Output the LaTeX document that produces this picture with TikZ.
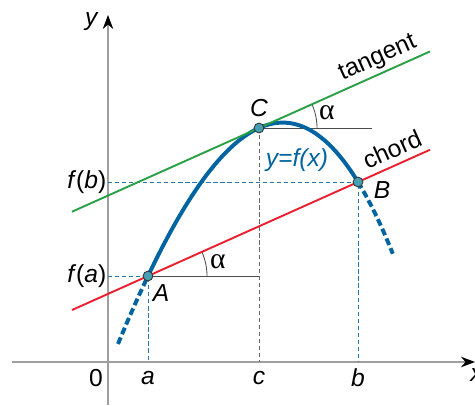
\documentclass[tikz,border=0pt]{standalone}
\usepackage{fontspec}
\setmainfont{Liberation Sans}
\newfontfamily\grkfont{Liberation Serif}
\usetikzlibrary{arrows.meta,calc}
\definecolor{curveblue}{RGB}{0,100,160}
\definecolor{tangreen}{RGB}{40,160,70}
\definecolor{chordred}{RGB}{235,30,45}
\definecolor{ptfill}{RGB}{70,160,180}
\definecolor{helpblue}{RGB}{40,120,175}

\begin{document}
\begin{tikzpicture}[font=\fontsize{17.5}{20}\selectfont,
  axis/.style={gray!75,line width=0.9pt,-{Stealth[black,length=10pt,width=7.5pt]}},
  pt/.style={circle,draw=black!80,fill=ptfill,line width=0.6pt,inner sep=0pt,minimum size=7pt},
  helper/.style={helpblue,line width=0.6pt,dash pattern=on 3pt off 2pt},
  crv/.style={curveblue,line width=2.8pt},
  angl/.style={black!70,line width=0.6pt},
  alpha/.style={font=\grkfont\fontsize{21}{22}\selectfont},
  declare function={f(\x)=5.85+0.4476*(\x-3.775)-0.36256*(\x-3.775)^2-0.015632*(\x-3.775)^3;}]
\useasboundingbox (-2.7,-1.075) rectangle (9.175,9.05);
% axes
\draw[axis] (-2.4,0) -- (9.175,0);
\draw[axis] (0,-1.075) -- (0,8.675);
\node (ly) at (-0.4,8.5) {\textit{y}};
\node (lx) at (9.22,-0.33) {\textit{x}};
\node (l0) at (-0.3,-0.4) {0};
% points on the curve
\coordinate (fa) at (0,2.15);
\coordinate (fb) at (0,4.5);
\coordinate (xa) at (1,0);
\coordinate (xc) at (3.775,0);
\coordinate (xb) at (6.25,0);
\coordinate (pa) at (1,2.15);
\coordinate (pc) at (3.775,5.85);
\coordinate (pb) at (6.25,4.5);
% helper lines
\draw[helper] (fa) -- (pa) -- (xa);
\draw[helper] (fb) -- (pb) -- (xb);
\draw[black!60,line width=0.7pt,dash pattern=on 3pt off 2pt] (pc) -- (xc);
\draw[angl] (pa) -- (pa -| xc);
\draw[angl] (pc) -- ++(2.825,0);
\draw[angl] ($(pa)+(1.475,0)$) arc[start angle=0,end angle=24.1,radius=1.475];
\draw[angl] ($(pc)+(1.45,0)$) arc[start angle=0,end angle=24.1,radius=1.45];
\node[alpha] (alA) at ($(pa)+(11.5:1.78)$) {α};
\node[alpha] (alC) at ($(pc)+(12.6:1.74)$) {α};
% the curve
\draw[crv,dash pattern=on 5pt off 2.5pt] plot[domain=0.25:1,samples=20] (\x,{f(\x)});
\draw[crv] plot[domain=1:6.25,samples=80] (\x,{f(\x)});
\draw[crv,dash pattern=on 5pt off 2.5pt] plot[domain=6.25:7.12,samples=20] (\x,{f(\x)});
\node[curveblue] (lf) at (4.725,5.05) {\textit{y=f(x)}};
% chord and tangent
\coordinate (pt) at ($(pc)+(pb)-(pa)$);
\draw[chordred,line width=1.35pt] ($(pa)!-0.362!(pb)$) -- ($(pa)!1.343!(pb)$);
\draw[tangreen,line width=1.35pt] ($(pc)!-0.8905!(pt)$) -- ($(pc)!0.8143!(pt)$);
\node[rotate=24.1] (ltan) at (6.75,7.58) {tangent};
\node[rotate=24.1] (lch) at (7.1,5.32) {chord};
% marked points
\node[pt] (A) at (pa) {};
\node[pt] (B) at (pb) {};
\node[pt] (C) at (pc) {};
\node (lA) at ($(A)+(0.325,-0.425)$) {\textit{A}};
\node (lB) at ($(B)+(0.6,-0.2)$) {\textit{B}};
\node (lC) at ($(C)+(0,0.5)$) {\textit{C}};
% axis labels
\node[left,inner sep=1pt] (lfa) at (fa) {\textit{f}(\textit{a})};
\node[left,inner sep=1pt] (lfb) at (fb) {\textit{f}(\textit{b})};
\node (la) at ($(xa)+(0,-0.4)$) {\textit{a}};
\node (lc) at ($(xc)+(0,-0.4)$) {\textit{c}};
\node (lb) at ($(xb)+(0,-0.4)$) {\textit{b}};
\end{tikzpicture}
\end{document}
